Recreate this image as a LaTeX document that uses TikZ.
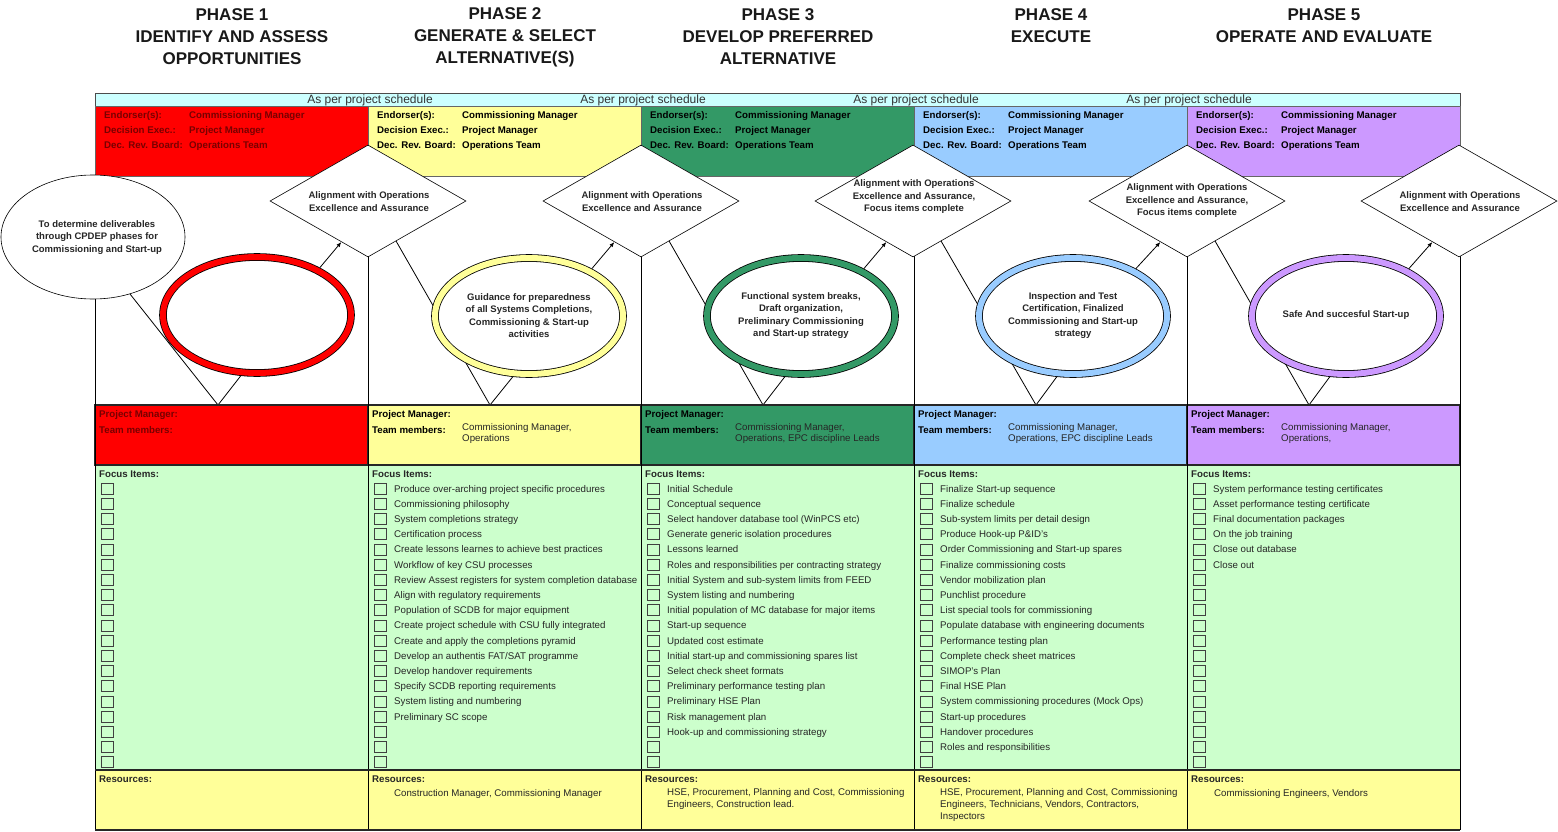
\documentclass[tikz,border=0pt]{standalone}
\usepackage{fontspec}
\setmainfont{Liberation Sans}
\usetikzlibrary{shapes.geometric,positioning,backgrounds,arrows.meta}

\definecolor{phred}{RGB}{255,0,0}
\definecolor{phyellow}{RGB}{255,255,153}
\definecolor{phgreen}{RGB}{51,153,102}
\definecolor{phblue}{RGB}{153,204,255}
\definecolor{phpurple}{RGB}{204,153,255}
\definecolor{schedbar}{RGB}{204,255,255}
\definecolor{focusbg}{RGB}{204,255,204}
\definecolor{resbg}{RGB}{255,255,153}
\definecolor{txtred}{RGB}{120,0,0}

\newcommand\cellfont{\fontsize{9.7}{11}\selectfont}
\newcommand\bubfont{\fontsize{9.5}{12.5}\selectfont\bfseries}

\begin{document}
\begin{tikzpicture}[x=1pt,y=-1pt,
    phase title/.style={align=center,inner sep=0,text=black!90,font=\fontsize{17}{22}\selectfont\bfseries},
    cell text/.style={anchor=base west,inner sep=0,text=black!85,font=\cellfont},
    head text/.style={cell text,font=\cellfont\bfseries},
    gate/.style={diamond,draw,fill=white,line width=0.6,aspect=1.75,inner sep=0,minimum width=196,minimum height=112},
    ring/.style={ellipse,draw=black,line width=0.8,double=#1,double distance=6,fill=white,inner sep=0,outer sep=3.8,minimum width=188,minimum height=116},
    bubble text/.style={align=center,inner sep=0,font=\bubfont,text=black!85},
    tick box/.style={draw=black!75,line width=0.6,minimum width=12,minimum height=11,inner sep=0},
    pointer/.style={draw,line width=0.8}]

  \useasboundingbox (0,0) rectangle (1558,832);

  % phase titles
  \node[phase title] (t1) at (232,37) {PHASE 1\\IDENTIFY AND ASSESS\\OPPORTUNITIES};
  \node[phase title] (t2) at (505,37) {PHASE 2\\GENERATE \& SELECT\\ALTERNATIVE(S)};
  \node[phase title] (t3) at (778,37) {PHASE 3\\DEVELOP PREFERRED\\ALTERNATIVE};
  \node[phase title] (t4) at (1051,26) {PHASE 4\\EXECUTE};
  \node[phase title] (t5) at (1324,26) {PHASE 5\\OPERATE AND EVALUATE};

  % schedule bar
  \draw[black!70,fill=schedbar] (95,93) rectangle (1460,106);
  \foreach \x [count=\n] in {368,641,914,1187}
    \node[inner sep=0,text=black!80,font=\fontsize{12}{12}\selectfont] (sched\n) at (\x+2,100) {As per project schedule};

  % colour bands
  \foreach \L/\c in {95/phred,368/phyellow,641/phgreen,914/phblue,1187/phpurple}{
    \draw[black!60,fill=\c] (\L,106) rectangle +(273,70);
    \fill[focusbg] (\L,465) rectangle +(273,305);
    \fill[resbg] (\L,770) rectangle +(273,60);
    \draw[black!85,line width=1.2,fill=\c] (\L,405) rectangle +(273,60);
  }
  \foreach \x in {95,368,641,914,1187,1460}
    \draw[line width=1] (\x,176) -- (\x,830);
  \draw[black!85,line width=1.5] (95,770) -- (1460,770);
  \draw[black!85,line width=1.5] (95,830) -- (1460,830);

  % header, team and resources labels
  \foreach \L/\tc [count=\n] in {95/txtred,368/black,641/black,914/black,1187/black}{
    \node[head text,text=\tc] (end\n) at (\L+9,119) {Endorser(s):};
    \node[head text,text=\tc] (dex\n) at (\L+9,134) {Decision Exec.:};
    \node[head text,text=\tc] (drb\n) at (\L+9,149) {Dec. Rev. Board:};
    \node[head text,text=\tc] (endv\n) at (\L+94,119) {Commissioning Manager};
    \node[head text,text=\tc] (dexv\n) at (\L+94,134) {Project Manager};
    \node[head text,text=\tc] (drbv\n) at (\L+94,149) {Operations Team};
    \node[head text,text=\tc] (pm\n) at (\L+4,417) {Project Manager:};
    \node[head text,text=\tc] (tm\n) at (\L+4,433) {Team members:};
    \node[head text] (fi\n) at (\L+4,477) {Focus Items:};
    \node[head text] (res\n) at (\L+4,782) {Resources:};
    \foreach \k in {0,...,18}
      \node[tick box] (cb\n-\k) at (\L+12,488.5+15.2*\k) {};
  }

  % team members
  \node[cell text,anchor=west,align=left] (tmv2) at (462,433.5) {Commissioning Manager,\\Operations};
  \node[cell text,anchor=west,align=left] (tmv3) at (735,433.5) {Commissioning Manager,\\Operations, EPC discipline Leads};
  \node[cell text,anchor=west,align=left] (tmv4) at (1008,433.5) {Commissioning Manager,\\Operations, EPC discipline Leads};
  \node[cell text,anchor=west,align=left] (tmv5) at (1281,433.5) {Commissioning Manager,\\Operations,};

  % focus items
  \foreach \t [count=\k from 0] in {Produce over-arching project specific procedures,
      Commissioning philosophy, System completions strategy, Certification process,
      Create lessons learnes to achieve best practices, Workflow of key CSU processes,
      Review Assest registers for system completion database, Align with regulatory requirements,
      Population of SCDB for major equipment, Create project schedule with CSU fully integrated,
      Create and apply the completions pyramid, Develop an authentis FAT/SAT programme,
      Develop handover requirements, Specify SCDB reporting requirements,
      System listing and numbering, Preliminary SC scope}
    \node[cell text] (f2-\k) at (394,492+15.2*\k) {\t};
  \foreach \t [count=\k from 0] in {Initial Schedule, Conceptual sequence,
      Select handover database tool (WinPCS etc), Generate generic isolation procedures,
      Lessons learned, Roles and responsibilities per contracting strategy,
      Initial System and sub-system limits from FEED, System listing and numbering,
      Initial population of MC database for major items, Start-up sequence,
      Updated cost estimate, Initial start-up and commissioning spares list,
      Select check sheet formats, Preliminary performance testing plan,
      Preliminary HSE Plan, Risk management plan, Hook-up and commissioning strategy}
    \node[cell text] (f3-\k) at (667,492+15.2*\k) {\t};
  \foreach \t [count=\k from 0] in {Finalize Start-up sequence, Finalize schedule,
      Sub-system limits per detail design, Produce Hook-up P\&ID's,
      Order Commissioning and Start-up spares, Finalize commissioning costs,
      Vendor mobilization plan, Punchlist procedure, List special tools for commissioning,
      Populate database with engineering documents, Performance testing plan,
      Complete check sheet matrices, SIMOP's Plan, Final HSE Plan,
      System commissioning procedures (Mock Ops), Start-up procedures,
      Handover procedures, Roles and responsibilities}
    \node[cell text] (f4-\k) at (940,492+15.2*\k) {\t};
  \foreach \t [count=\k from 0] in {System performance testing certificates,
      Asset performance testing certificate, Final documentation packages,
      On the job training, Close out database, Close out}
    \node[cell text] (f5-\k) at (1213,492+15.2*\k) {\t};

  % resources
  \node[cell text] (rv2) at (394,796) {Construction Manager, Commissioning Manager};
  \node[cell text,anchor=west,align=left,font=\fontsize{9.7}{12}\selectfont] (rv3) at (667,799) {HSE, Procurement, Planning and Cost, Commissioning\\Engineers, Construction lead.};
  \node[cell text,anchor=west,align=left,font=\fontsize{9.7}{12}\selectfont] (rv4) at (940,805) {HSE, Procurement, Planning and Cost, Commissioning\\Engineers, Technicians, Vendors, Contractors,\\Inspectors};
  \node[cell text] (rv5) at (1214,796) {Commissioning Engineers, Vendors};

  % gates
  \node[gate] (d1) at (368,201) {};
  \node[gate] (d2) at (641,201) {};
  \node[gate] (d3) at (913,201) {};
  \node[gate] (d4) at (1187,201) {};
  \node[gate] (d5) at (1459,201) {};
  \node[bubble text] (d1t) at (369,201.5) {Alignment with Operations\\Excellence and Assurance};
  \node[bubble text] (d2t) at (642,201.5) {Alignment with Operations\\Excellence and Assurance};
  \node[bubble text] (d3t) at (914,197) {Alignment with Operations\\Excellence and Assurance,\\Focus items complete};
  \node[bubble text] (d4t) at (1187,201) {Alignment with Operations\\Excellence and Assurance,\\Focus items complete};
  \node[bubble text] (d5t) at (1460,201.5) {Alignment with Operations\\Excellence and Assurance};

  % deliverables
  \node[ellipse,draw,fill=white,line width=0.6,inner sep=0,minimum width=184,minimum height=124] (start) at (93,237) {};
  \node[bubble text] (startt) at (97,237.5) {To determine deliverables\\through CPDEP phases for\\Commissioning and Start-up};
  \node[ring=phred] (e1) at (257,315) {};
  \node[ring=phyellow] (e2) at (529,316) {};
  \node[ring=phgreen] (e3) at (801,316) {};
  \node[ring=phblue] (e4) at (1073,316) {};
  \node[ring=phpurple] (e5) at (1346,316) {};
  \node[bubble text] (e2t) at (529,315.5) {Guidance for preparedness\\of all Systems Completions,\\Commissioning \& Start-up\\activities};
  \node[bubble text] (e3t) at (801,315.5) {Functional system breaks,\\Draft organization,\\Preliminary Commissioning\\and Start-up strategy};
  \node[bubble text] (e4t) at (1073,315.5) {Inspection and Test\\Certification, Finalized\\Commissioning and Start-up\\strategy};
  \node[bubble text] (e5t) at (1346,315.5) {Safe And succesful Start-up};

  \coordinate (a1) at (218,405);
  \coordinate (a2) at (490,405);
  \coordinate (a3) at (763,405);
  \coordinate (a4) at (1036,405);
  \coordinate (a5) at (1309,405);

  \begin{scope}[on background layer]
    \draw[pointer] (start.303) -- (a1) -- (e1.255);
    \draw[pointer] (d1.305) -- (a2) -- (e2.255);
    \draw[pointer] (d2.305) -- (a3) -- (e3.255);
    \draw[pointer] (d3.305) -- (a4) -- (e4.255);
    \draw[pointer] (d4.305) -- (a5) -- (e5.255);
  \end{scope}

  \foreach \i in {1,...,5}
    \draw[-{Latex[length=5,width=4]},line width=0.8] (e\i.37) -- (d\i.237);

\end{tikzpicture}
\end{document}
